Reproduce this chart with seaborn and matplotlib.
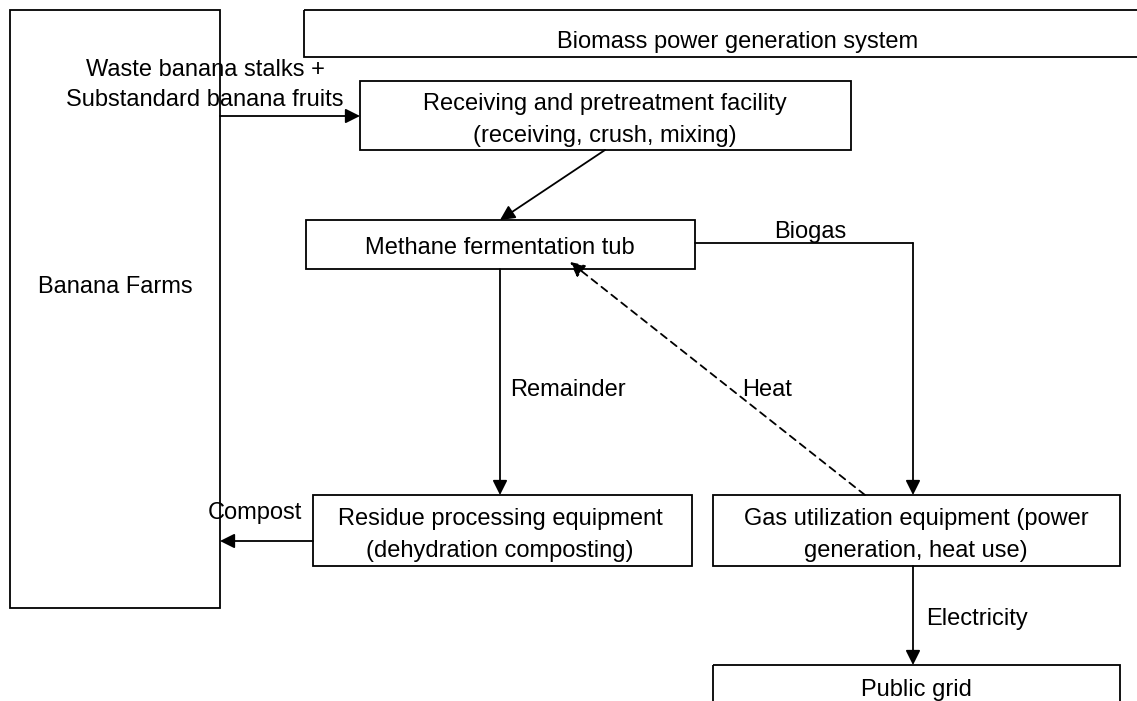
import matplotlib
matplotlib.use("Agg")
import matplotlib.pyplot as plt
import seaborn as sns
from matplotlib.patches import Rectangle

sns.set_theme(style="white")
plt.rcParams["font.family"] = ["Liberation Sans", "DejaVu Sans"]
plt.rcParams["text.color"] = "black"

# box labels
box_names = ["farms", "system", "receiving", "methane", "residue", "gas", "grid"]
box_labels = [
    "Banana Farms",
    "Biomass power generation system",
    "Receiving and pretreatment facility\n(receiving, crush, mixing)",
    "Methane fermentation tub",
    "Residue processing equipment\n(dehydration composting)",
    "Gas utilization equipment (power\ngeneration, heat use)",
    "Public grid",
]

# flow labels
flow_labels = [
    "Waste banana stalks +\nSubstandard banana fruits",
    "Biogas",
    "Remainder",
    "Heat",
    "Compost",
    "Electricity",
]

# layout in pixel space: x0, y0, x1, y1, text x, text y
layout = {
    "farms": (10, 10, 220, 608, 115, 287),
    "system": (304, 10, 1150, 57, 738, 42),
    "receiving": (360, 81, 851, 150, 605, 120),
    "methane": (306, 220, 695, 269, 500, 248),
    "residue": (313, 495, 692, 566, 500, 535),
    "gas": (713, 495, 1120, 566, 916, 535),
    "grid": (713, 665, 1120, 720, 916, 690),
}

fig = plt.figure(figsize=(11.37, 7.01), dpi=100)
ax = fig.add_axes([0, 0, 1, 1])
ax.set_xlim(0, 1137)
ax.set_ylim(701, 0)
ax.axis("off")

fs = 17
lw = 1.3

for name, label in zip(box_names, box_labels):
    x0, y0, x1, y1, tx, ty = layout[name]
    ax.add_patch(Rectangle((x0, y0), x1 - x0, y1 - y0, fill=False,
                           edgecolor="black", lw=lw, zorder=2))
    ax.text(tx, ty, label, ha="center", va="center", fontsize=fs,
            linespacing=1.55, color="black", zorder=3)


def arrow(p0, p1, ls="-"):
    ax.annotate("", xy=p1, xytext=p0,
                arrowprops=dict(arrowstyle="-|>", color="black", lw=lw,
                                linestyle=ls, mutation_scale=22,
                                shrinkA=0, shrinkB=0), zorder=4)


# feed into receiving
arrow((220, 116), (360, 116))
ax.text(205, 85, flow_labels[0], ha="center", va="center", fontsize=fs,
        linespacing=1.45, color="black", zorder=3)

# receiving -> methane
arrow((605, 150), (500, 220))

# methane -> residue
arrow((500, 269), (500, 495))
ax.text(510, 390, flow_labels[2], ha="left", va="center", fontsize=fs,
        color="black")

# biogas path
ax.plot([695, 913], [243, 243], color="black", lw=lw)
arrow((913, 243), (913, 495))
ax.text(810, 232, flow_labels[1], ha="center", va="center", fontsize=fs,
        color="black")

# heat (dashed)
arrow((865, 495), (570, 262), ls=(0, (4, 3)))
ax.text(767, 390, flow_labels[3], ha="center", va="center", fontsize=fs,
        color="black")

# compost
arrow((313, 541), (220, 541))
ax.text(255, 513, flow_labels[4], ha="center", va="center", fontsize=fs,
        color="black")

# electricity
arrow((913, 566), (913, 665))
ax.text(926, 619, flow_labels[5], ha="left", va="center", fontsize=fs,
        color="black")

fig.savefig("out.png", dpi=100, facecolor="white")
